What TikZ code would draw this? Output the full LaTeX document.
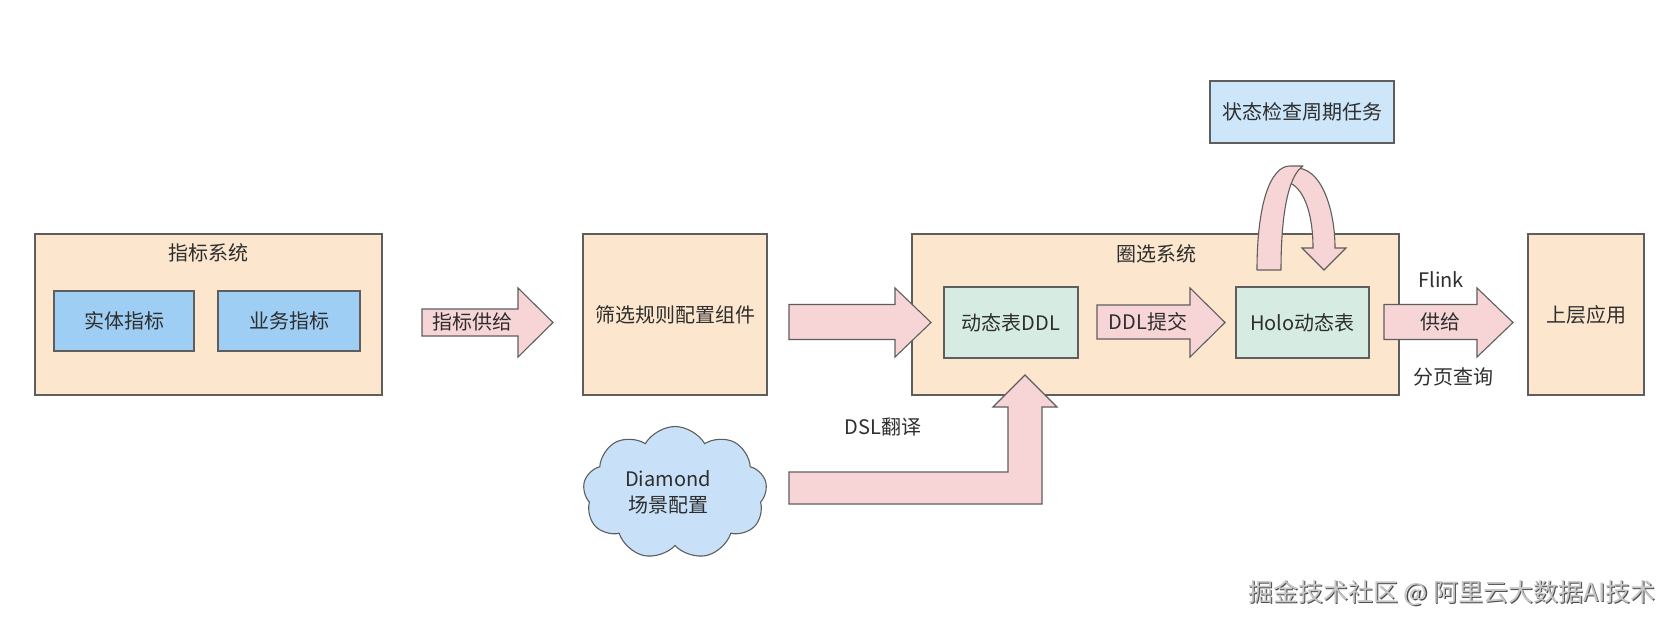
\documentclass[tikz,border=0pt]{standalone}
\usepackage{fontspec}
\setmainfont{Noto Sans CJK SC}
\usetikzlibrary{shapes.symbols}
\definecolor{peach}{HTML}{FDE6CE}
\definecolor{bluein}{HTML}{9ECEF4}
\definecolor{bluelt}{HTML}{CDE6FA}
\definecolor{mint}{HTML}{D6ECE2}
\definecolor{pinkarrow}{HTML}{F7D5D7}
\definecolor{cloudblue}{HTML}{C8E1F8}
\definecolor{edge}{HTML}{5E5E5E}
\definecolor{txt}{HTML}{2E2E2E}
\begin{document}
\begin{tikzpicture}[x=1pt,y=-1pt,
  every node/.style={text=txt,font=\fontsize{20}{23}\selectfont,inner sep=0pt},
  box/.style={draw=edge,line width=1.1pt,rectangle},
  sysbox/.style={box,fill=peach},
  innerblue/.style={box,fill=bluein},
  innermint/.style={box,fill=mint},
  blockarrow/.style={draw=edge,line width=1.1pt,fill=pinkarrow,line join=miter}
]
\useasboundingbox[fill=white] (0,0) rectangle (1678,630);

% system boxes
\node[sysbox,minimum width=347pt,minimum height=161pt] (sys1) at (208.5,314.5) {};
\node (sys1t) at (208,253) {指标系统};
\node[innerblue,minimum width=140pt,minimum height=60pt] (e1) at (124,321) {实体指标};
\node[innerblue,minimum width=142pt,minimum height=60pt] (e2) at (289,321) {业务指标};

\node[sysbox,minimum width=184pt,minimum height=161pt] (filter) at (675,314.5) {筛选规则配置组件};

\node[sysbox,minimum width=487pt,minimum height=161pt] (sys2) at (1155.5,314.5) {};
\node (sys2t) at (1156,254) {圈选系统};

\node[sysbox,minimum width=116pt,minimum height=161pt] (app) at (1586,314.5) {上层应用};

\node[box,fill=bluelt,minimum width=184pt,minimum height=62pt] (state) at (1302,112) {状态检查周期任务};

% cloud
\node[cloud,draw=edge,line width=1.1pt,fill=cloudblue,cloud puffs=9,cloud puff arc=120,aspect=1.4,minimum width=184pt,minimum height=133pt] (cloud) at (675,493) {};
\node[align=center] (cloudt) at (668,492) {Diamond\\[3pt]场景配置};

% block arrows
\draw[blockarrow] (422,309) -- (518,309) -- (518,288) -- (553,322.5) -- (518,357) -- (518,336) -- (422,336) -- cycle;
\node (a1t) at (472,322) {指标供给};

\draw[blockarrow] (789,304.5) -- (895,304.5) -- (895,288) -- (931,322.5) -- (895,357) -- (895,339.5) -- (789,339.5) -- cycle;

\draw[blockarrow] (789,472) -- (1008,472) -- (1008,407) -- (993,407) -- (1025,375) -- (1057,407) -- (1042,407) -- (1042,504) -- (789,504) -- cycle;
\node (dslt) at (883,427) {DSL翻译};

% inner mint boxes
\node[innermint,minimum width=134pt,minimum height=71pt] (ddl) at (1011,322.5) {动态表DDL};
\node[innermint,minimum width=133pt,minimum height=71pt] (holo) at (1302.5,322.5) {Holo动态表};

\draw[blockarrow] (1097,305) -- (1190,305) -- (1190,288) -- (1225,322.5) -- (1190,357) -- (1190,339) -- (1097,339) -- cycle;
\node (ddlt) at (1148,322) {DDL提交};

\draw[blockarrow] (1384,304.5) -- (1477,304.5) -- (1477,288) -- (1513,322.5) -- (1477,357) -- (1477,339.5) -- (1384,339.5) -- cycle;
\node (flink) at (1441,280) {Flink};
\node (gongji) at (1440,322) {供给};
\node (fenye) at (1453,377) {分页查询};

% loop arrow: back (right) band, then front (left) band
\draw[blockarrow] (1287,170) .. controls (1318,158) and (1335,205) .. (1335,248)
  -- (1346,248) -- (1324,270) -- (1302,248) -- (1313,248)
  .. controls (1313,212) and (1303,186) .. (1287,182) -- cycle;
\draw[blockarrow,line join=round] (1257,270) .. controls (1257,205) and (1270,166) .. (1290,166)
  -- (1303,166) .. controls (1288,176) and (1281,215) .. (1281,270) -- cycle;

% watermark
\node[text=black!70,font=\fontsize{25}{27}\selectfont] (wm2) at (1453.2,594.2) {掘金技术社区 @ 阿里云大数据AI技术};
\node[text=black!22,font=\fontsize{25}{27}\selectfont] (wm) at (1452,593) {掘金技术社区 @ 阿里云大数据AI技术};
\end{tikzpicture}
\end{document}
